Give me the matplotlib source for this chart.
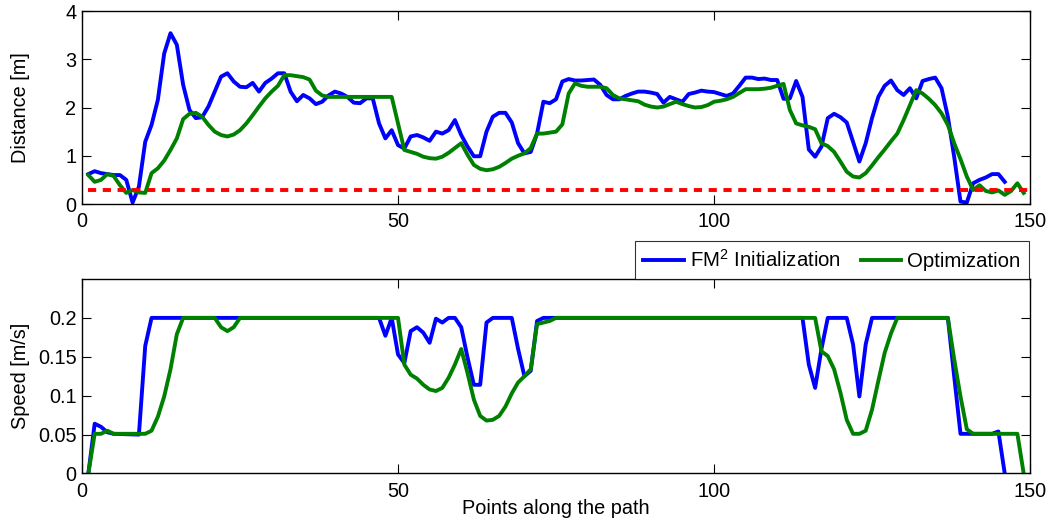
import numpy as np
import matplotlib.pyplot as plt

plt.rcParams['font.family'] = ['Liberation Sans', 'DejaVu Sans']
plt.rcParams['mathtext.fontset'] = 'custom'
plt.rcParams['mathtext.rm'] = 'Liberation Sans'

# Distance to obstacles, one value per path point (index 1..N)
dist_init = [0.62, 0.68, 0.64, 0.62, 0.60, 0.60, 0.50, 0.03, 0.36, 1.29,
             1.64, 2.16, 3.12, 3.54, 3.30, 2.47, 1.95, 1.78, 1.80, 2.02,
             2.33, 2.64, 2.71, 2.54, 2.43, 2.42, 2.51, 2.33, 2.51, 2.60,
             2.71, 2.71, 2.33, 2.13, 2.26, 2.19, 2.07, 2.12, 2.25, 2.33,
             2.29, 2.22, 2.10, 2.09, 2.19, 2.19, 1.67, 1.36, 1.53, 1.22,
             1.15, 1.40, 1.43, 1.38, 1.31, 1.50, 1.46, 1.53, 1.74, 1.43,
             1.19, 0.99, 0.99, 1.50, 1.81, 1.89, 1.89, 1.69, 1.26, 1.05,
             1.08, 1.46, 2.12, 2.09, 2.17, 2.54, 2.59, 2.56, 2.56, 2.57,
             2.58, 2.47, 2.26, 2.17, 2.17, 2.24, 2.29, 2.33, 2.33, 2.31,
             2.28, 2.10, 2.22, 2.17, 2.12, 2.28, 2.31, 2.35, 2.33, 2.32,
             2.28, 2.24, 2.29, 2.45, 2.62, 2.62, 2.59, 2.60, 2.57, 2.57,
             2.18, 2.19, 2.55, 2.22, 1.13, 0.98, 1.19, 1.78, 1.87, 1.80,
             1.69, 1.29, 0.88, 1.26, 1.78, 2.22, 2.45, 2.56, 2.36, 2.26,
             2.40, 2.19, 2.55, 2.59, 2.62, 2.40, 1.81, 0.98, 0.05, 0.03,
             0.43, 0.50, 0.55, 0.62, 0.62, 0.46]

dist_opt = [0.60, 0.46, 0.50, 0.62, 0.58, 0.39, 0.23, 0.29, 0.24, 0.23,
            0.64, 0.74, 0.90, 1.12, 1.36, 1.76, 1.87, 1.89, 1.81, 1.64,
            1.50, 1.43, 1.40, 1.44, 1.53, 1.67, 1.84, 2.02, 2.19, 2.33,
            2.45, 2.67, 2.67, 2.65, 2.63, 2.58, 2.35, 2.25, 2.22, 2.22,
            2.22, 2.22, 2.22, 2.22, 2.22, 2.22, 2.22, 2.22, 2.22, 1.67,
            1.12, 1.08, 1.04, 0.98, 0.95, 0.94, 0.98, 1.06, 1.16, 1.26,
            1.02, 0.81, 0.73, 0.70, 0.72, 0.77, 0.85, 0.94, 1.00, 1.05,
            1.16, 1.46, 1.46, 1.48, 1.50, 1.65, 2.29, 2.50, 2.45, 2.43,
            2.43, 2.43, 2.40, 2.26, 2.19, 2.17, 2.15, 2.13, 2.06, 2.02,
            2.00, 2.02, 2.07, 2.12, 2.07, 2.03, 2.00, 2.01, 2.05, 2.12,
            2.14, 2.17, 2.22, 2.30, 2.38, 2.38, 2.38, 2.39, 2.41, 2.45,
            2.49, 1.95, 1.67, 1.63, 1.60, 1.55, 1.26, 1.20, 1.08, 0.88,
            0.67, 0.57, 0.55, 0.64, 0.80, 0.97, 1.13, 1.30, 1.46, 1.74,
            2.05, 2.36, 2.29, 2.18, 2.05, 1.88, 1.64, 1.26, 0.93, 0.57,
            0.29, 0.39, 0.27, 0.24, 0.28, 0.19, 0.27, 0.43, 0.23]

safety_dist = 0.3
safety_x = [1, 150]

# Speed profiles (breakpoints: point index, speed)
speed_init_x = [1, 2, 3, 4, 5, 9, 10, 11, 47, 48, 49, 50, 51, 52, 53, 54, 55,
                56, 57, 58, 59, 60, 61, 62, 63, 64, 65, 68, 69, 70, 71, 72, 73,
                114, 115, 116, 117, 118, 121, 122, 123, 124, 125, 137, 138,
                139, 144, 145, 146]
speed_init_y = [0, 0.064, 0.060, 0.053, 0.051, 0.050, 0.164, 0.2, 0.2, 0.177,
                0.2, 0.153, 0.142, 0.183, 0.188, 0.181, 0.168, 0.199, 0.194,
                0.2, 0.2, 0.188, 0.149, 0.114, 0.114, 0.194, 0.2, 0.2, 0.160,
                0.125, 0.132, 0.196, 0.2, 0.2, 0.140, 0.110, 0.160, 0.2, 0.2,
                0.166, 0.099, 0.166, 0.2, 0.2, 0.125, 0.051, 0.051, 0.054, 0.0]

speed_opt_x = [1, 2, 3, 4, 5, 10, 11, 12, 13, 14, 15, 16, 21, 22, 23, 24, 25,
               50, 51, 52, 53, 54, 55, 56, 57, 58, 59, 60, 61, 62, 63, 64, 65,
               66, 67, 68, 69, 70, 71, 72, 73, 74, 75, 116, 117, 118, 119, 120,
               121, 122, 123, 124, 125, 126, 127, 128, 129, 137, 138, 139, 140,
               141, 148, 149]
speed_opt_y = [0, 0.051, 0.051, 0.055, 0.051, 0.051, 0.055, 0.073, 0.099,
               0.134, 0.179, 0.2, 0.2, 0.188, 0.183, 0.188, 0.2, 0.2, 0.140,
               0.127, 0.122, 0.114, 0.108, 0.106, 0.110, 0.123, 0.140, 0.160,
               0.129, 0.095, 0.074, 0.068, 0.069, 0.074, 0.086, 0.103, 0.117,
               0.125, 0.134, 0.192, 0.194, 0.196, 0.2, 0.2, 0.157, 0.151,
               0.134, 0.104, 0.069, 0.051, 0.051, 0.055, 0.082, 0.119, 0.155,
               0.180, 0.2, 0.2, 0.147, 0.099, 0.057, 0.051, 0.051, 0.0]

blue = (0, 0, 1)
green = (0, 0.5, 0)
lw = 2.8

fig = plt.figure(figsize=(10.49, 5.25), dpi=100)
ax1 = fig.add_axes([0.0782, 0.6114, 0.9037, 0.3676])
ax2 = fig.add_axes([0.0782, 0.0981, 0.9037, 0.3705])

# Distance plot
ax1.plot(np.arange(1, len(dist_init) + 1), dist_init, color=blue, lw=lw)
ax1.plot(np.arange(1, len(dist_opt) + 1), dist_opt, color=green, lw=lw)
ax1.plot(safety_x, [safety_dist, safety_dist], color='red', lw=lw,
         dashes=(2.1, 1.7))
ax1.set_xlim(0, 150)
ax1.set_ylim(0, 4)
ax1.set_xticks([0, 50, 100, 150])
ax1.set_yticks([0, 1, 2, 3, 4])
ax1.set_ylabel('Distance [m]')

# Speed plot
l1, = ax2.plot(speed_init_x, speed_init_y, color=blue, lw=lw,
               label='FM$^2$ Initialization')
l2, = ax2.plot(speed_opt_x, speed_opt_y, color=green, lw=lw,
               label='Optimization')
ax2.set_xlim(0, 150)
ax2.set_ylim(0, 0.25)
ax2.set_xticks([0, 50, 100, 150])
ax2.set_yticks([0, 0.05, 0.1, 0.15, 0.2])
ax2.set_yticklabels(['0', '0.05', '0.1', '0.15', '0.2'])
ax2.set_ylabel('Speed [m/s]')
ax2.set_xlabel('Points along the path', labelpad=-1)

for ax in (ax1, ax2):
    ax.tick_params(direction='in', length=6.5, width=0.8, top=True,
                   right=True, labelsize=14.3)
    ax.tick_params(axis='x', pad=6)
    ax.tick_params(axis='y', pad=4)
    ax.yaxis.label.set_size(14.3)
    ax.xaxis.label.set_size(14.3)
    ax.yaxis.set_label_coords(-0.055, 0.5)
    for s in ax.spines.values():
        s.set_linewidth(1.0)

leg = fig.legend(handles=[l1, l2], loc='lower right',
                 bbox_to_anchor=(1029 / 1049, 1 - 279 / 525),
                 ncol=2, fontsize=14.7, frameon=True, fancybox=False,
                 borderaxespad=0, handlelength=2.0, handletextpad=0.3,
                 columnspacing=0.95, borderpad=0.4)
leg.get_frame().set_edgecolor('black')
leg.get_frame().set_linewidth(0.8)

plt.savefig('out.png', dpi=100)
